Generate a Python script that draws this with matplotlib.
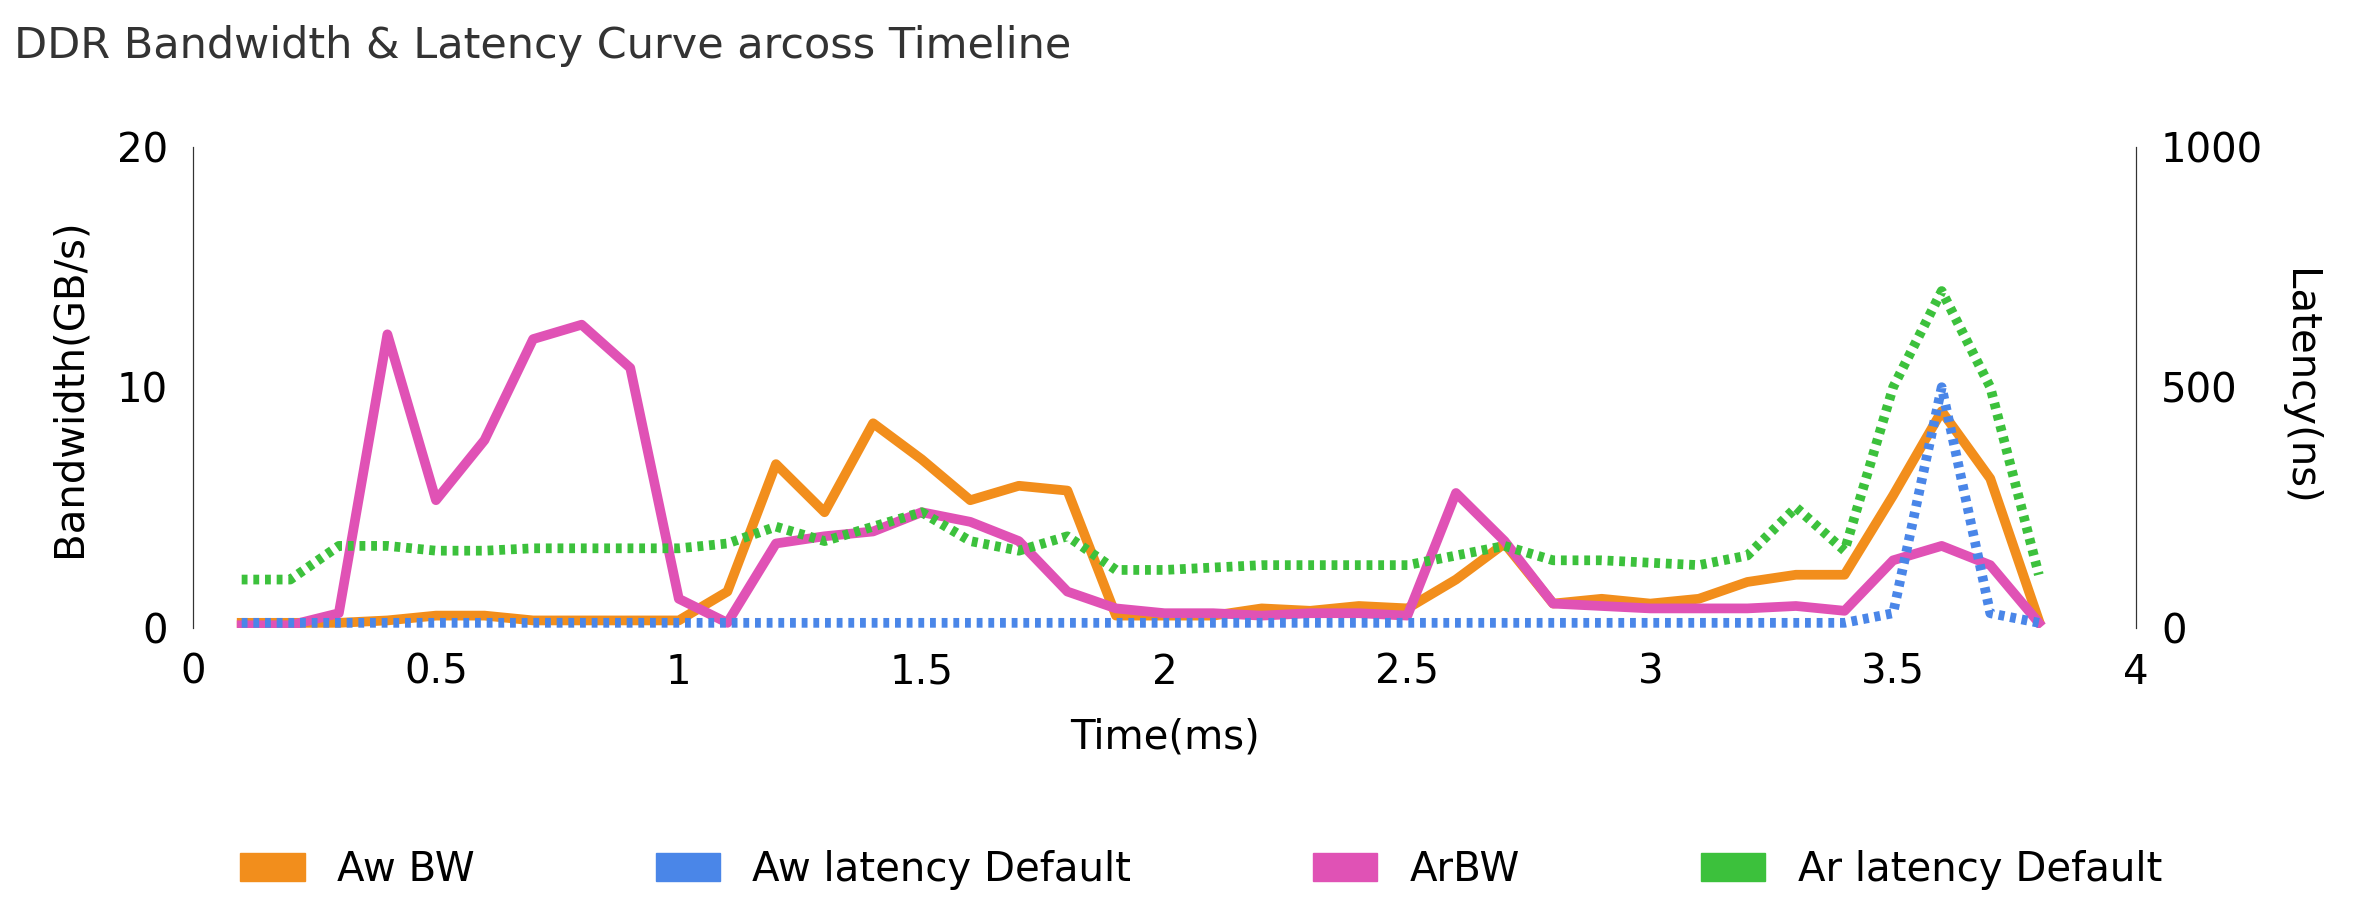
import matplotlib.pyplot as plt
from matplotlib.patches import Patch

time_ms = [0.1, 0.2, 0.3, 0.4, 0.5, 0.6, 0.7, 0.8, 0.9, 1.0, 1.1, 1.2, 1.3, 1.4, 1.5, 1.6, 1.7, 1.8, 1.9,
           2.0, 2.1, 2.2, 2.3, 2.4, 2.5, 2.6, 2.7, 2.8, 2.9, 3.0, 3.1, 3.2, 3.3, 3.4, 3.5, 3.6, 3.7, 3.8]
aw_bw = [0.2, 0.2, 0.2, 0.3, 0.5, 0.5, 0.3, 0.3, 0.3, 0.3, 1.5, 6.8, 4.8, 8.5, 7.0, 5.3, 5.9, 5.7, 0.5,
         0.5, 0.5, 0.8, 0.7, 0.9, 0.8, 2.0, 3.5, 1.0, 1.2, 1.0, 1.2, 1.9, 2.2, 2.2, 5.5, 9.0, 6.2, 0.3]
ar_bw = [0.1, 0.1, 0.6, 12.2, 5.3, 7.8, 12.0, 12.6, 10.8, 1.2, 0.2, 3.5, 3.8, 4.0, 4.8, 4.4, 3.6, 1.5, 0.8,
         0.6, 0.6, 0.5, 0.6, 0.6, 0.5, 5.6, 3.6, 1.0, 0.9, 0.8, 0.8, 0.8, 0.9, 0.7, 2.8, 3.4, 2.6, 0.2]
aw_lat = [10, 10, 10, 10, 10, 10, 10, 10, 10, 10, 10, 10, 10, 10, 10, 10, 10, 10, 10,
          10, 10, 10, 10, 10, 10, 10, 10, 10, 10, 10, 10, 10, 10, 10, 30, 500, 30, 10]
ar_lat = [100, 100, 170, 170, 160, 160, 165, 165, 165, 165, 175, 210, 180, 210, 240, 180, 160, 190, 120,
          120, 125, 130, 130, 130, 130, 150, 170, 140, 140, 135, 130, 150, 250, 160, 500, 700, 500, 110]

orange, blue, pink, green = "#F28E1C", "#4A86E8", "#E052B5", "#3CC13C"

fig, ax = plt.subplots(figsize=(23.55, 9.23), dpi=100)
fig.subplots_adjust(left=0.082, right=0.907, top=0.841, bottom=0.32)
ax2 = ax.twinx()

ax.plot(time_ms, aw_bw, color=orange, lw=7, zorder=3)
ax.plot(time_ms, ar_bw, color=pink, lw=7, zorder=3)
ax2.plot(time_ms, aw_lat, color=blue, lw=7, ls=(0, (0.6, 0.6)))
ax2.plot(time_ms, ar_lat, color=green, lw=7, ls=(0, (0.6, 0.6)))

ax.set_xlim(0, 4)
ax.set_ylim(0, 20)
ax2.set_ylim(0, 1000)
ax.set_xticks([0, 0.5, 1, 1.5, 2, 2.5, 3, 3.5, 4])
ax.set_xticklabels(["0", "0.5", "1", "1.5", "2", "2.5", "3", "3.5", "4"])
ax.set_yticks([0, 10, 20])
ax2.set_yticks([0, 500, 1000])
for a in (ax, ax2):
    a.tick_params(labelsize=29, length=0, pad=18)
    for s in ("top", "bottom"):
        a.spines[s].set_visible(False)
    a.spines["left"].set_color("#333333")
    a.spines["right"].set_color("#333333")

ax.set_xlabel("Time(ms)", fontsize=29, labelpad=18)
ax.set_ylabel("Bandwidth(GB/s)", fontsize=29, labelpad=20)
ax2.set_ylabel("Latency(ns)", fontsize=29, rotation=270, labelpad=40)
fig.text(0.006, 0.95, "DDR Bandwidth & Latency Curve arcoss Timeline", fontsize=31, va="center",
         color="#333333")

handles = [Patch(color=orange), Patch(color=blue), Patch(color=pink), Patch(color=green)]
labels = ["Aw BW", "Aw latency Default", "ArBW", "Ar latency Default"]
fig.legend(handles, labels, loc="center", bbox_to_anchor=(0.51, 0.057), ncol=4, frameon=False,
           fontsize=29, handlelength=1.6, handleheight=0.7, columnspacing=4.5)

fig.savefig("out.png")
